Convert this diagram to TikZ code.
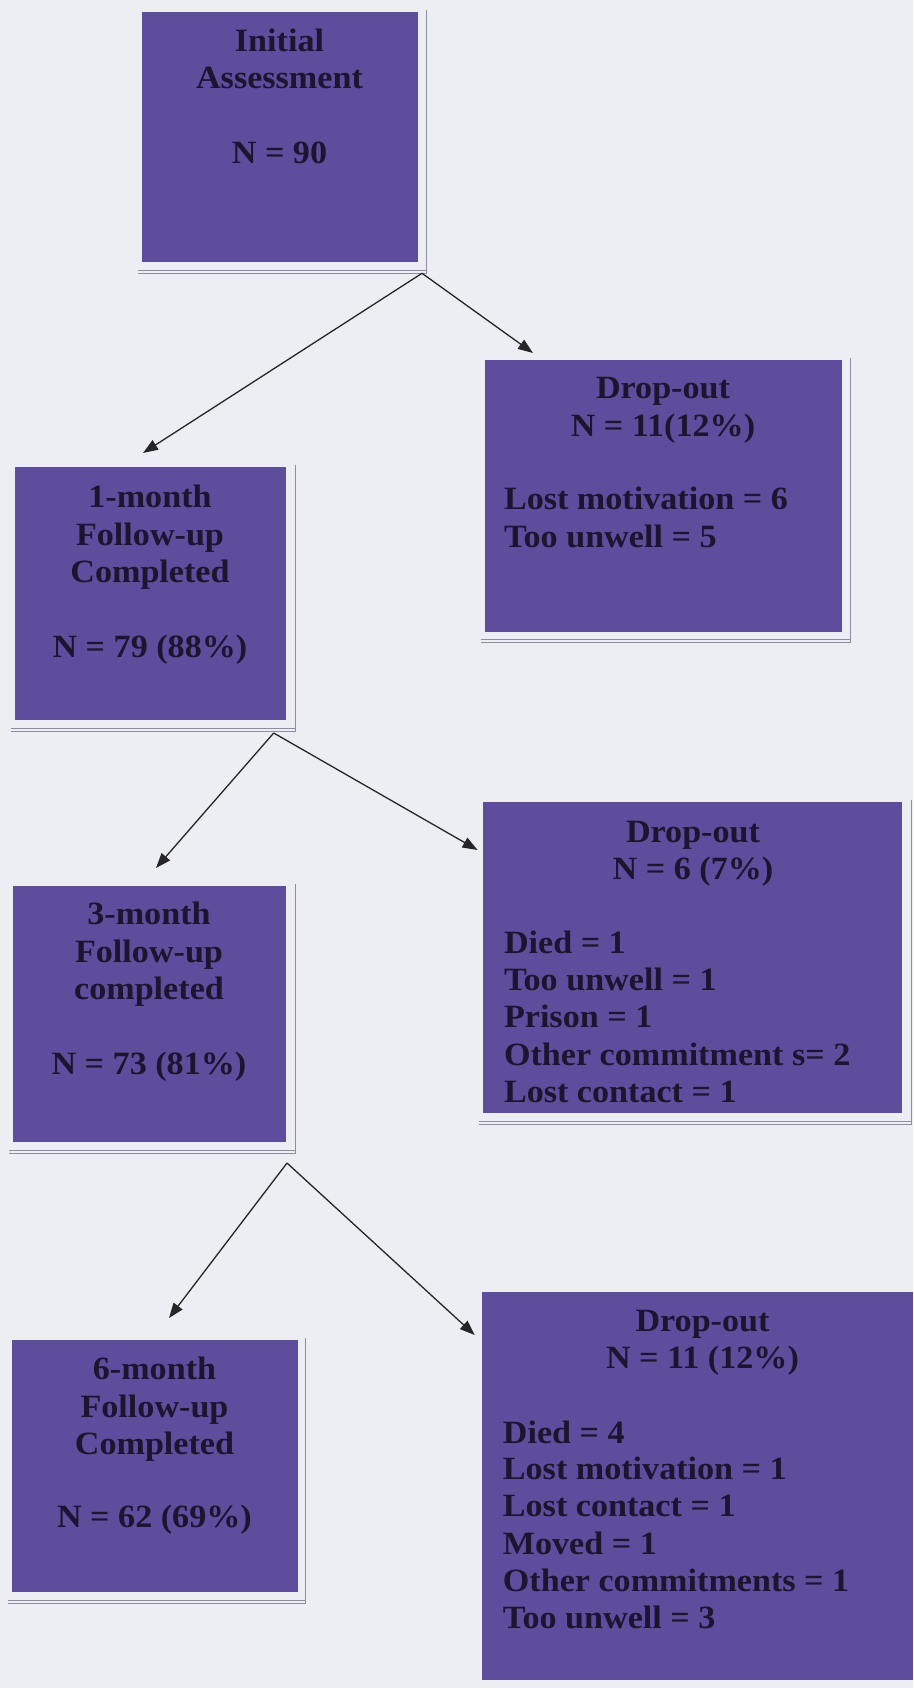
\documentclass[tikz,border=0pt]{standalone}
\usepackage{fontspec}
\newfontfamily\boxfont{Liberation Serif}[FakeStretch=1.05]
\usetikzlibrary{arrows.meta,calc}
\definecolor{boxpurple}{HTML}{5E4D9C}
\definecolor{pagebg}{HTML}{EDEDF4}
\definecolor{inkdark}{HTML}{1B1530}
\definecolor{framegray}{HTML}{8C8CA2}
\tikzset{
  flowbox/.style={fill=boxpurple, draw=none, anchor=north west, inner sep=0pt, outer sep=0pt},
  ctext/.style={font=\boxfont\bfseries\fontsize{32.5}{37}\selectfont, text=inkdark, anchor=base, inner sep=0pt},
  ltext/.style={ctext, anchor=base west},
  frameline/.style={draw=framegray, line width=0.8pt},
  flowarrow/.style={draw=black!85, line width=1.3pt, -{Triangle[length=15pt,width=11pt]}},
}
\begin{document}
\begin{tikzpicture}[x=1pt,y=-1pt]
\fill[pagebg] (0,0) rectangle (913,1688);
\useasboundingbox (0,0) rectangle (913,1688);

% boxes
\node[flowbox, minimum width=276pt, minimum height=250pt] (init) at (141.5,11.7) {};
\node[flowbox, minimum width=357pt, minimum height=272pt] (d1) at (484.6,360) {};
\node[flowbox, minimum width=271pt, minimum height=253pt] (m1) at (14.6,466.7) {};
\node[flowbox, minimum width=419pt, minimum height=311pt] (d2) at (483.4,801.7) {};
\node[flowbox, minimum width=273pt, minimum height=256pt] (m3) at (12.8,886) {};
\node[flowbox, minimum width=286pt, minimum height=252pt] (m6) at (11.6,1340) {};
\node[flowbox, minimum width=431pt, minimum height=388pt] (d3) at (482,1292) {};

% frames
\foreach \b/\dx/\dy in {init/8.5/12, d1/8.5/10, m1/9.5/11.5, d2/8.8/12, m3/9.5/11.5, m6/7.8/11.5}{
  \draw[frameline] ($(\b.north east)+(\dx,-2)$) -- ($(\b.south east)+(\dx,\dy)$) -- ($(\b.south west)+(-4,\dy)$);
  \draw[frameline] ($(\b.south west)+(-4,\dy-3)$) -- ($(\b.south east)+(\dx,\dy-3)$);
}

% texts: initial
\node[ctext] (i1) at (279.5,51.7) {Initial};
\node[ctext] (i2) at (279.5,88.3) {Assessment};
\node[ctext] (i3) at (279.5,163.3) {N = 90};

% drop-out 1
\node[ctext] (a1) at (663,398.5) {Drop-out};
\node[ctext] (a2) at (663,436.8) {N = 11(12\%)};
\node[ltext] (a3) at (503.8,509.5) {Lost motivation = 6};
\node[ltext] (a4) at (503.8,547.5) {Too unwell = 5};

% 1-month
\node[ctext] (b1) at (150,507.5) {1-month};
\node[ctext] (b2) at (150,545) {Follow-up};
\node[ctext] (b3) at (150,582.5) {Completed};
\node[ctext] (b4) at (150,657.5) {N = 79 (88\%)};

% drop-out 2
\node[ctext] (c1) at (693,842) {Drop-out};
\node[ctext] (c2) at (693,879) {N = 6 (7\%)};
\node[ltext] (c3) at (503.8,953) {Died = 1};
\node[ltext] (c4) at (503.8,990) {Too unwell = 1};
\node[ltext] (c5) at (503.8,1027.5) {Prison = 1};
\node[ltext] (c6) at (503.8,1065) {Other commitment s= 2};
\node[ltext] (c7) at (503.8,1102.5) {Lost contact = 1};

% 3-month
\node[ctext] (e1) at (149,924) {3-month};
\node[ctext] (e2) at (149,962) {Follow-up};
\node[ctext] (e3) at (149,999) {completed};
\node[ctext] (e4) at (149,1074) {N = 73 (81\%)};

% 6-month
\node[ctext] (f1) at (154.5,1379) {6-month};
\node[ctext] (f2) at (154.5,1417) {Follow-up};
\node[ctext] (f3) at (154.5,1454) {Completed};
\node[ctext] (f4) at (154.5,1527.5) {N = 62 (69\%)};

% drop-out 3
\node[ctext] (g1) at (702.5,1331.7) {Drop-out};
\node[ctext] (g2) at (702.5,1368.5) {N = 11 (12\%)};
\node[ltext] (g3) at (502.7,1443.3) {Died = 4};
\node[ltext] (g4) at (502.7,1479.5) {Lost motivation = 1};
\node[ltext] (g5) at (502.7,1516.7) {Lost contact = 1};
\node[ltext] (g6) at (502.7,1554) {Moved = 1};
\node[ltext] (g7) at (502.7,1591.7) {Other commitments = 1};
\node[ltext] (g8) at (502.7,1628.3) {Too unwell = 3};

% arrows
\coordinate (s0) at (422,273.3);
\coordinate (t0l) at (143,453);
\coordinate (t0r) at (533,353);
\coordinate (s1) at (273.7,733);
\coordinate (t1l) at (156,868);
\coordinate (t1r) at (477.6,850);
\coordinate (s3) at (287,1163);
\coordinate (t3l) at (169,1318);
\coordinate (t3r) at (474.7,1335);
\draw[flowarrow] (s0) -- (t0l);
\draw[flowarrow] (s0) -- (t0r);
\draw[flowarrow] (s1) -- (t1l);
\draw[flowarrow] (s1) -- (t1r);
\draw[flowarrow] (s3) -- (t3l);
\draw[flowarrow] (s3) -- (t3r);
\end{tikzpicture}
\end{document}
